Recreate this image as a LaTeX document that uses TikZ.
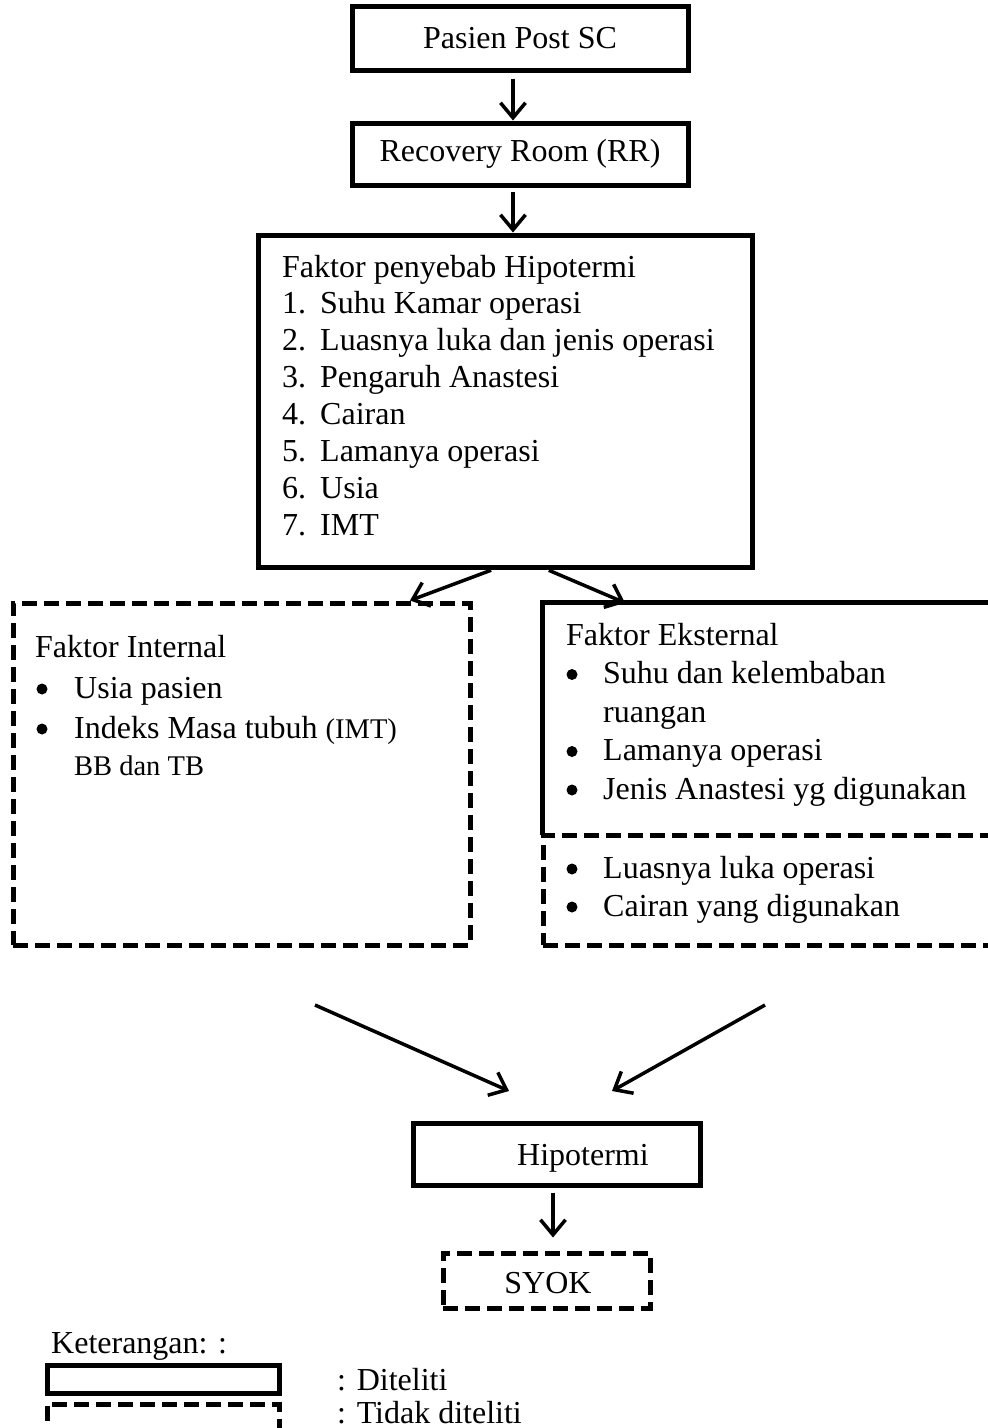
\documentclass[tikz,border=0pt]{standalone}
\usepackage{fontspec}
\setmainfont{Liberation Serif}
\usetikzlibrary{arrows.meta}
\begin{document}
\begin{tikzpicture}[x=1pt,y=-1pt,
  solidbox/.style={draw=black,line width=5pt,inner sep=0pt,fill=none},
  dashbox/.style={draw=black,line width=5pt,dash pattern=on 15pt off 7pt,inner sep=0pt},
  arr/.style={line width=3.5pt,-{Straight Barb[length=15pt,width=25pt]}},
  txt/.style={anchor=base west,inner sep=0pt,font=\fontsize{32}{37}\selectfont},
  stxt/.style={anchor=base west,inner sep=0pt,font=\fontsize{28.5}{34}\selectfont},
  bul/.style={circle,fill=black,inner sep=0pt,minimum size=11pt},
  ctxt/.style={font=\fontsize{32}{37}\selectfont}]
\useasboundingbox (0,0) rectangle (988,1428);
\clip (0,0) rectangle (988,1428);
\fill[white] (0,0) rectangle (988,1428);

% top boxes
\node[solidbox,minimum width=336pt,minimum height=64pt,ctxt] (pasien) at (520,38) {Pasien Post SC};
\node[solidbox,minimum width=336pt,minimum height=62pt,ctxt] (rr) at (520,154) {Recovery Room (RR)};
\draw[arr,shorten <=6pt] ([xshift=-7pt]pasien.south) -- ([xshift=-7pt]rr.north);

% faktor penyebab
\node[solidbox,minimum width=494pt,minimum height=332pt] (faktor) at (505,401) {};
\draw[arr,shorten <=4pt] ([xshift=-7pt]rr.south) -- ([xshift=8pt]faktor.north);
\node[txt] (f0) at (282,277) {Faktor penyebab Hipotermi};
\node[txt] (n1) at (282,313.9) {1.};\node[txt] (t1) at (320,313.9) {Suhu Kamar operasi};
\node[txt] (n2) at (282,350.8) {2.};\node[txt] (t2) at (320,350.8) {Luasnya luka dan jenis operasi};
\node[txt] (n3) at (282,387.7) {3.};\node[txt] (t3) at (320,387.7) {Pengaruh Anastesi};
\node[txt] (n4) at (282,424.6) {4.};\node[txt] (t4) at (320,424.6) {Cairan};
\node[txt] (n5) at (282,461.5) {5.};\node[txt] (t5) at (320,461.5) {Lamanya operasi};
\node[txt] (n6) at (282,498.4) {6.};\node[txt] (t6) at (320,498.4) {Usia};
\node[txt] (n7) at (282,535.3) {7.};\node[txt] (t7) at (320,535.3) {IMT};

% internal
\node[dashbox,minimum width=457pt,minimum height=342pt] (internal) at (241.5,774) {};
\node[txt] (i0) at (35,657) {Faktor Internal};
\node[bul] (ib1) at (42,689) {};\node[txt] (i1) at (74,698) {Usia pasien};
\node[bul] (ib2) at (42,729) {};\node[txt] (i2) at (74,738) {Indeks Masa tubuh \fontsize{28.5}{34}\selectfont(IMT)};
\node[stxt] (i3) at (74,775) {BB dan TB};

% eksternal
\node[minimum width=457pt,minimum height=232pt,inner sep=0pt] (eksternal) at (771.5,719) {};
\draw[line width=5pt] (eksternal.south west) -- (eksternal.north west) -- (eksternal.north east);
\node[dashbox,minimum width=457pt,minimum height=110pt] (eksternal2) at (771.5,890) {};
\node[txt] (e0) at (566,645) {Faktor Eksternal};
\node[bul] (eb1) at (572,674.5) {};\node[txt] (e1) at (603,683.5) {Suhu dan kelembaban};
\node[txt] (e1b) at (603,722) {ruangan};
\node[bul] (eb2) at (572,751.5) {};\node[txt] (e2) at (603,760.5) {Lamanya operasi};
\node[bul] (eb3) at (572,790) {};\node[txt] (e3) at (603,799) {Jenis Anastesi yg digunakan};
\node[bul] (eb4) at (572,869) {};\node[txt] (e4) at (603,878) {Luasnya luka operasi};
\node[bul] (eb5) at (572,907) {};\node[txt] (e5) at (603,916) {Cairan yang digunakan};

\draw[arr,shorten <=2pt] ([xshift=-12pt]faktor.south) -- ([xshift=168.5pt]internal.north);
\draw[arr,shorten <=2pt] ([xshift=42pt]faktor.south) -- ([xshift=-146.5pt]eksternal.north);

% hipotermi
\node[solidbox,minimum width=287pt,minimum height=62pt] (hipo) at (556.5,1154) {};
\node[txt] (hipot) at (517,1165) {Hipotermi};
\coordinate (la) at (315,1005);
\coordinate (lt) at (509,1091);
\coordinate (ra) at (765,1005);
\coordinate (rt) at (612,1091);
\draw[arr] (la) -- (lt);
\draw[arr] (ra) -- (rt);

\node[dashbox,minimum width=207pt,minimum height=55pt] (syok) at (546.5,1280.5) {};
\node[ctxt,anchor=base,inner sep=0pt] (syokt) at (548,1293) {SYOK};
\draw[arr,shorten <=5pt,shorten >=13pt] ([xshift=-3.5pt]hipo.south) -- ([xshift=6.5pt]syok.north);

% legend
\node[txt] (ket) at (51,1353) {Keterangan: :};
\node[solidbox,minimum width=232pt,minimum height=28pt] (lsolid) at (163,1379) {};
\node[dashbox,minimum width=232pt,minimum height=40pt] (ldash) at (163,1424) {};
\node[txt] (ld1) at (337,1390) {: Diteliti};
\node[txt] (ld2) at (337,1423) {: Tidak diteliti};
\end{tikzpicture}
\end{document}
